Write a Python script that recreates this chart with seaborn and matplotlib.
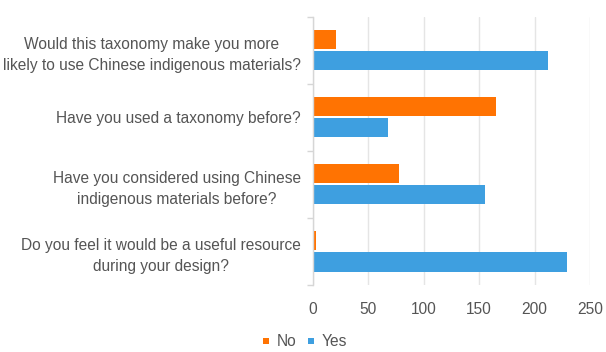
import matplotlib
matplotlib.use("Agg")
import matplotlib.pyplot as plt
from matplotlib.lines import Line2D
import pandas as pd
import seaborn as sns

questions = [
    "Would this taxonomy make you more\nlikely to use Chinese indigenous materials?",
    "Have you used a taxonomy before?",
    "Have you considered using Chinese\nindigenous materials before?",
    "Do you feel it would be a useful resource\nduring your design?",
]
no_counts = [21, 165, 78, 3]
yes_counts = [212, 68, 155, 229]
answers = ["No", "Yes"]
colors = {"No": "#FF7302", "Yes": "#3E9FE0"}
x_ticks = [0, 50, 100, 150, 200, 250]

df = pd.DataFrame({
    "question": questions * 2,
    "answer": ["No"] * len(questions) + ["Yes"] * len(questions),
    "count": no_counts + yes_counts,
})

sns.set_theme(style="white")
plt.rcParams["font.family"] = ["Liberation Sans", "DejaVu Sans"]
text_color = "#555555"
grid_color = "#e5e5e5"

fig = plt.figure(figsize=(6.06, 3.52), dpi=100)
ax = fig.add_axes([312.5 / 606, 1 - 285 / 352, (590 - 312.5) / 606, (285 - 16.5) / 352])

sns.barplot(data=df, y="question", x="count", hue="answer", order=questions,
            hue_order=answers, palette=colors, orient="h", width=0.63, gap=0.1,
            saturation=1, ax=ax, legend=False, linewidth=0)

ax.set_xlim(0, 250)
ax.set_ylim(3.5, -0.5)
ax.set_xticks(x_ticks)
ax.set_xlabel("")
ax.set_ylabel("")
ax.grid(axis="x", color=grid_color, linewidth=1)
ax.set_axisbelow(True)

for side in ["top", "right", "bottom"]:
    ax.spines[side].set_visible(False)
ax.spines["left"].set_color("#d6d6d6")
ax.spines["left"].set_linewidth(1)

ax.set_yticks([-0.5, 0.5, 1.5, 2.5, 3.5], minor=True)
ax.tick_params(axis="y", which="minor", left=True, length=4.3, width=1, color="#d6d6d6")
ax.tick_params(axis="y", which="major", left=False, length=0, pad=8.5,
               labelsize=11.2, labelcolor=text_color)
ax.tick_params(axis="x", which="major", bottom=False, length=0, pad=12.5,
               labelsize=11.2, labelcolor=text_color)
for lbl in ax.get_yticklabels():
    lbl.set_multialignment("center")
    lbl.set_linespacing(1.5)

handles = [Line2D([0], [0], marker="s", linestyle="", markersize=5,
                  markerfacecolor=colors[a], markeredgewidth=0, label=a) for a in answers]
fig.legend(handles=handles, loc="center", bbox_to_anchor=(304 / 606, 1 - 342 / 352),
           ncol=2, frameon=False, fontsize=11.2, labelcolor=text_color,
           handlelength=0.6, handletextpad=0.4, columnspacing=0.6)

fig.savefig("out.png", dpi=100)
